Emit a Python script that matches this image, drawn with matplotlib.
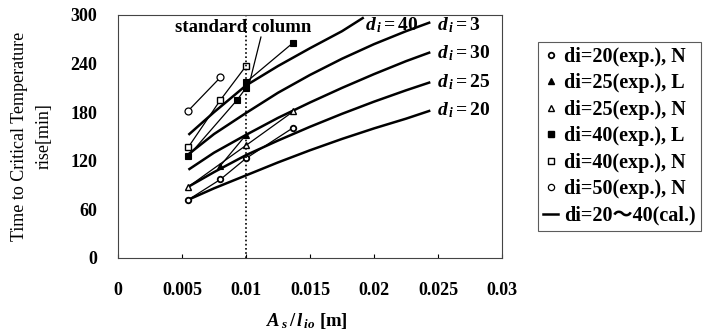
import matplotlib
matplotlib.use("Agg")
import matplotlib.pyplot as plt
from matplotlib.lines import Line2D

plt.rcParams['font.family'] = ['Liberation Serif', 'Noto Sans CJK JP', 'DejaVu Serif']
plt.rcParams['mathtext.fontset'] = 'custom'
plt.rcParams['mathtext.rm'] = 'Liberation Serif:bold'
plt.rcParams['mathtext.it'] = 'Liberation Serif:italic:bold'
plt.rcParams['mathtext.bf'] = 'Liberation Serif:bold'

# ---------------- data ----------------
x_ticks = [0, 0.005, 0.01, 0.015, 0.02, 0.025, 0.03]
x_tick_labels = ['0', '0.005', '0.01', '0.015', '0.02', '0.025', '0.03']
y_ticks = [0, 60, 120, 180, 240, 300]
y_tick_labels = ['0', '60', '120', '180', '240', '300']

# calculated curves (di = 20 ~ 40)
cal_x = [0.0055, 0.0075, 0.01, 0.0125, 0.015, 0.0175, 0.02, 0.0225, 0.0244]
cal_di20 = [72, 86, 102, 118, 133, 147, 160, 172, 182]
cal_di25 = [88, 106, 127, 145, 162, 178, 193, 207, 217]
cal_di30 = [109, 130, 152, 173, 192, 210, 227, 243, 254]
cal_di35 = [128, 153, 179, 204, 226, 246, 264, 280, 291]
cal_x40 = [0.0055, 0.0075, 0.01, 0.0125, 0.015, 0.0175, 0.0192]
cal_di40 = [152, 180, 213, 237, 259, 280, 297]

# experimental series
exp20N_x = [0.0055, 0.008, 0.01, 0.0137]
exp20N_y = [72, 97, 123, 161]
exp25L_x = [0.008, 0.01]
exp25L_y = [114, 152]
exp25N_x = [0.0055, 0.01, 0.0137]
exp25N_y = [88, 139, 181]
exp40L_x = [0.0055, 0.0093, 0.01, 0.01, 0.0137]
exp40L_y = [126, 195, 210, 217, 266]
exp40N_x = [0.0055, 0.008, 0.01]
exp40N_y = [137, 195, 237]
exp50N_x = [0.0055, 0.008]
exp50N_y = [182, 223]

legend_labels = ['di=20(exp.), N', 'di=25(exp.), L', 'di=25(exp.), N',
                 'di=40(exp.), L', 'di=40(exp.), N', 'di=50(exp.), N',
                 'di=20\uff5e40(cal.)']
curve_labels = ['=40', '=3', '=30', '=25', '=20']

# ---------------- figure ----------------
W, H = 722, 333
fig = plt.figure(figsize=(W / 100, H / 100), dpi=100)
ax = fig.add_axes([118 / W, 1 - 258 / H, (502 - 118) / W, (258 - 15) / H])

ax.set_xlim(0, 0.03)
ax.set_ylim(0, 300)

# calculated
cal_kw = dict(color='black', lw=1.8, solid_capstyle='butt')
ax.plot(cal_x, cal_di20, **cal_kw)
ax.plot(cal_x, cal_di25, **cal_kw)
ax.plot(cal_x, cal_di30, **cal_kw)
ax.plot(cal_x, cal_di35, **cal_kw)
ax.plot(cal_x40, cal_di40, **cal_kw)

# experimental
ekw = dict(color='black', lw=0.9)
ax.plot(exp20N_x, exp20N_y, marker='o', ms=4, mfc='white', mec='black', mew=1.3, **ekw)
ax.plot(exp25L_x, exp25L_y, marker='^', ms=4.5, mfc='black', mec='black', mew=0.8, **ekw)
ax.plot(exp25N_x, exp25N_y, marker='^', ms=4.5, mfc='white', mec='black', mew=1.0, **ekw)
ax.plot(exp40L_x, exp40L_y, marker='s', ms=5, mfc='black', mec='black', mew=0.8, **ekw)
ax.plot(exp40N_x, exp40N_y, marker='s', ms=5, mfc='white', mec='black', mew=1.0, **ekw)
ax.plot(exp50N_x, exp50N_y, marker='o', ms=5, mfc='white', mec='black', mew=0.9, **ekw)

# standard column
ax.axvline(0.01, color='black', ls=(0, (1, 1.5)), lw=1.2)
ax.text(0.00977, 284, 'standard column', ha='center', va='center',
        fontsize=13.5, fontweight='bold')
ax.annotate('', xy=(0.0103, 218), xytext=(0.01117, 273),
            arrowprops=dict(arrowstyle='-', color='black', lw=0.9,
                            shrinkA=0, shrinkB=0))

# curve labels
lab_pos = [(0.0193, 288), (0.0249, 288), (0.0249, 253), (0.0249, 217), (0.0249, 183)]
for (lx, ly), t in zip(lab_pos, curve_labels):
    ax.text(lx, ly, r'$d_{\,i}$' + r'$\mathrm{' + t + '}$', ha='left', va='center',
            fontsize=14, fontweight='bold', clip_on=False)

# axes style
for s in ax.spines.values():
    s.set_linewidth(0.8)
    s.set_color('#444444')
ax.set_xticks(x_ticks)
ax.set_xticklabels(x_tick_labels)
ax.set_yticks(y_ticks)
ax.set_yticklabels(y_tick_labels)
ax.tick_params(axis='x', direction='in', length=3, width=0.8, pad=17, labelsize=13)
ax.tick_params(axis='y', direction='in', length=0, width=0.8, pad=15, labelsize=13)
for lbl in ax.get_xticklabels() + ax.get_yticklabels():
    lbl.set_fontweight('bold')

# axis labels
fig.text(32 / W, 1 - 136 / H, 'Time to Critical Temperature\nrise[min]',
         rotation=90, ha='center', va='center', multialignment='center',
         fontsize=13, linespacing=1.6)
fig.text(307 / W, 1 - 321 / H, r'$A_{\,s}\,/\,l_{\,io}$ [m]', ha='center', va='center',
         fontsize=13.5, fontweight='bold')

# legend
handles = [
    Line2D([], [], ls='none', marker='o', ms=4, mfc='white', mec='black', mew=1.3),
    Line2D([], [], ls='none', marker='^', ms=4.5, mfc='black', mec='black'),
    Line2D([], [], ls='none', marker='^', ms=4.5, mfc='white', mec='black', mew=1.0),
    Line2D([], [], ls='none', marker='s', ms=4.5, mfc='black', mec='black'),
    Line2D([], [], ls='none', marker='s', ms=4.5, mfc='white', mec='black', mew=1.0),
    Line2D([], [], ls='none', marker='o', ms=4.5, mfc='white', mec='black', mew=0.9),
    Line2D([], [], color='black', lw=1.8),
]
leg = fig.legend(handles, legend_labels, loc='upper left',
                 bbox_to_anchor=(538 / W, 1 - 42 / H), bbox_transform=fig.transFigure,
                 borderaxespad=0, frameon=True, fancybox=False, edgecolor='#333333',
                 handlelength=0.75, handletextpad=0.3, labelspacing=0.32,
                 borderpad=0.25,
                 prop={'family': ['Liberation Serif', 'Noto Sans CJK JP'],
                       'weight': 'bold', 'size': 14.5})
leg.get_frame().set_linewidth(0.8)

fig.savefig('out.png', dpi=100)
